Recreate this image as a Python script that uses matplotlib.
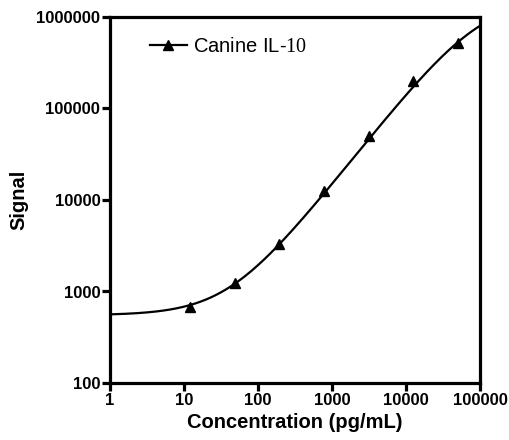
import matplotlib
matplotlib.use("Agg")
import matplotlib.pyplot as plt
from matplotlib.ticker import FixedLocator, NullLocator
import numpy as np

plt.rcParams["font.family"] = ["Liberation Sans", "DejaVu Sans"]
plt.rcParams["mathtext.fontset"] = "custom"
plt.rcParams["mathtext.rm"] = "Liberation Serif"

# Standard points (pg/mL -> signal)
conc = [12.2, 48.8, 195, 781, 3125, 12500, 50000]
signal = [670, 1250, 3300, 12500, 50000, 200000, 520000]

# 4PL fit parameters, estimated from the curve in the picture
bottom = 550
top = 1.6e6
ec50 = 1.0e5
hill = 1.02

x_ticks = [1, 10, 100, 1000, 10000, 100000]
y_ticks = [100, 1000, 10000, 100000, 1000000]


def four_pl(x):
    return bottom + (top - bottom) / (1 + (ec50 / x) ** hill)


fig = plt.figure(figsize=(5.1, 4.4), dpi=100)
ax = fig.add_axes([0.2157, 0.1295, 0.7255, 0.832])

xs = np.logspace(0, 5, 300)
ax.plot(xs, four_pl(xs), color="black", lw=1.6, zorder=2)
ax.plot(conc, signal, ls="none", marker="^", color="black", ms=7.5, zorder=3)
ax.plot([], [], color="black", lw=1.6, marker="^", ms=7.5,
        label="Canine IL-$\\mathrm{10}$")

ax.set_xscale("log")
ax.set_yscale("log")
ax.set_xlim(1, 100000)
ax.set_ylim(100, 1000000)
ax.xaxis.set_major_locator(FixedLocator(x_ticks))
ax.yaxis.set_major_locator(FixedLocator(y_ticks))
ax.xaxis.set_minor_locator(NullLocator())
ax.yaxis.set_minor_locator(NullLocator())
ax.set_xticklabels([str(v) for v in x_ticks], fontweight="bold", fontsize=12)
ax.set_yticklabels([str(v) for v in y_ticks], fontweight="bold", fontsize=12)

for sp in ax.spines.values():
    sp.set_linewidth(2.3)
ax.tick_params(which="major", direction="out", length=6, width=2.3, pad=1)

ax.set_xlabel("Concentration (pg/mL)", fontsize=14.5, fontweight="bold", labelpad=4)
ax.set_ylabel("Signal", fontsize=14.5, fontweight="bold", labelpad=6)

ax.legend(loc="upper left", frameon=False, fontsize=14.5, handlelength=1.8,
          handletextpad=0.3, bbox_to_anchor=(0.06, 0.995))

fig.savefig("out.png", dpi=100)
